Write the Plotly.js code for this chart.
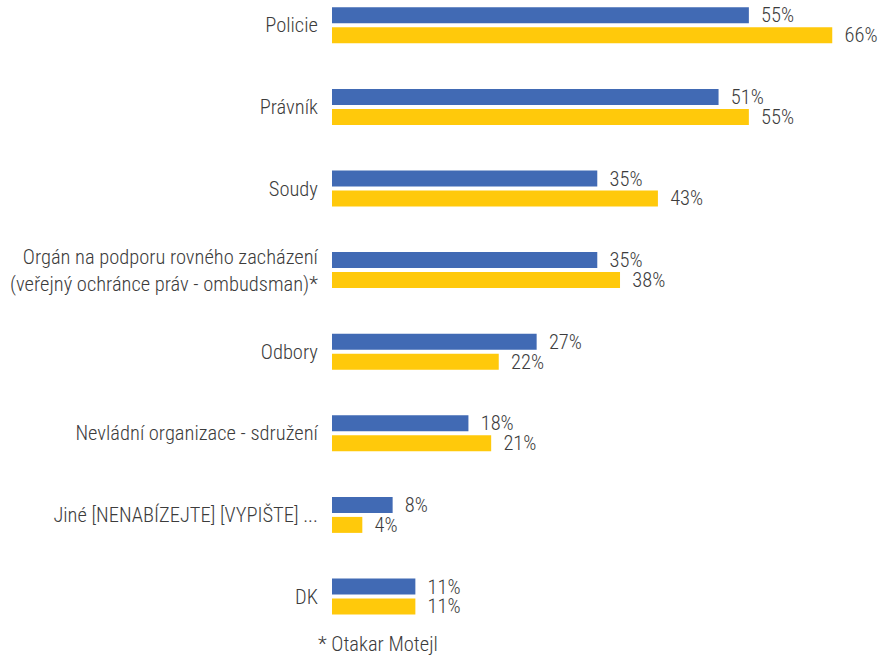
<!DOCTYPE html>
<html>
<head>
<meta charset="utf-8">
<script src="https://cdn.plot.ly/plotly-3.0.1.min.js"></script>
<style>html,body{margin:0;padding:0;background:#fff;}#chart{width:880px;height:656px;}</style>
</head>
<body>
<div id="chart"></div>
<script>
const categories = [
  "Policie",
  "Právník",
  "Soudy",
  "Orgán na podporu rovného zacházení<br>(veřejný ochránce práv - ombudsman)*",
  "Odbory",
  "Nevládní organizace - sdružení",
  "Jiné [NENABÍZEJTE] [VYPIŠTE] ...",
  "DK"
];
const seriesBlue = [55, 51, 35, 35, 27, 18, 8, 11];
const seriesYellow = [66, 55, 43, 38, 22, 21, 4, 11];
const footnote = "* Otakar Motejl";

const FONT = '"Roboto Condensed", "Liberation Sans Narrow", sans-serif';
const TXT = '#3c3c3c';

const mk = (vals, color, name) => ({
  type: 'bar',
  orientation: 'h',
  name: name,
  y: categories,
  x: vals,
  marker: {color: color},
  texttemplate: '\u00A0\u00A0%{x}%',
  textposition: 'outside',
  cliponaxis: false,
  constraintext: 'none',
  textfont: {family: FONT, size: 20.5, weight: 300, color: TXT},
  hoverinfo: 'x+y'
});

const data = [mk(seriesBlue, '#416AB4', 'A'), mk(seriesYellow, '#FFC90B', 'B')];

const layout = {
  width: 880, height: 656,
  margin: {l: 332, r: 0, t: 0, b: 36},
  paper_bgcolor: '#fff', plot_bgcolor: '#fff',
  showlegend: false,
  barmode: 'group',
  bargap: 0.51,
  bargroupgap: 0.2,
  font: {family: FONT, size: 20.5, weight: 300, color: TXT},
  xaxis: {visible: false, range: [0, 72.3], fixedrange: true},
  yaxis: {
    type: 'category',
    range: [7.288, -0.31],
    showgrid: false, zeroline: false, showline: false,
    ticks: 'outside', ticklen: 9, tickcolor: 'rgba(0,0,0,0)',
    tickfont: {family: FONT, size: 20.5, weight: 300, color: TXT},
    fixedrange: true
  },
  annotations: [{
    text: footnote, xref: 'paper', yref: 'paper',
    x: 0.084, y: -0.0387, xanchor: 'center', yanchor: 'middle',
    showarrow: false, font: {family: FONT, size: 20.5, weight: 300, color: TXT}
  }]
};

Plotly.newPlot('chart', data, layout, {displayModeBar: false, staticPlot: true});
</script>
</body>
</html>
